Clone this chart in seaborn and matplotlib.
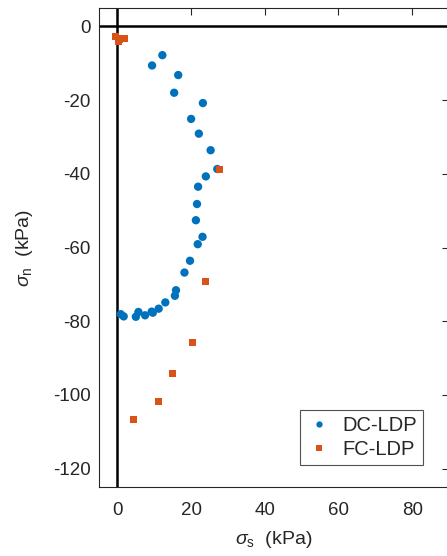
import matplotlib
matplotlib.use("Agg")
import matplotlib.pyplot as plt
import numpy as np
import pandas as pd
import seaborn as sns

# DC-LDP points (sigma_s, sigma_n) in kPa
dc_s = [12.2, 9.4, 16.5, 15.4, 23.2, 20.0, 22.1, 25.3, 27.1, 24.0, 21.9, 21.6, 21.3,
        23.1, 21.8, 19.7, 18.2, 15.9, 15.6, 13.0, 11.2, 9.6, 9.3, 7.5, 5.7, 5.0, 0.9, 1.7]
dc_n = [-7.8, -10.6, -13.2, -18.0, -20.8, -25.1, -29.1, -33.6, -38.7, -40.7, -43.5, -48.2, -52.6,
        -57.1, -59.1, -63.6, -66.8, -71.6, -73.1, -74.9, -76.6, -77.7, -77.4, -78.4, -77.5, -78.8, -78.1, -78.7]

# FC-LDP points
fc_s = [-0.5, 0.2, 1.0, 2.0, 0.5, 27.7, 23.9, 20.5, 15.0, 11.2, 4.4]
fc_n = [-2.8, -4.0, -3.2, -3.3, -3.6, -38.8, -69.3, -85.9, -94.3, -101.7, -106.6]

series = ["DC-LDP", "FC-LDP"]
colors = ["#0072BD", "#D95319"]

df = pd.DataFrame({
    "s": dc_s + fc_s,
    "n": dc_n + fc_n,
    "kind": [series[0]] * len(dc_s) + [series[1]] * len(fc_s),
})

sns.set_style("white")
plt.rcParams["font.family"] = ["Liberation Sans", "DejaVu Sans"]
plt.rcParams["mathtext.fontset"] = "custom"
plt.rcParams["mathtext.rm"] = "Liberation Sans"
plt.rcParams["mathtext.it"] = "Liberation Sans:italic"
plt.rcParams["axes.unicode_minus"] = False

fig = plt.figure(figsize=(4.47, 5.56), dpi=100)
ax = fig.add_axes([99 / 447, 69 / 556, 350 / 447, 479 / 556])

ax.axhline(0, color="black", lw=1.8, zorder=1)
ax.axvline(0, color="black", lw=1.8, zorder=1)

sns.scatterplot(data=df, x="s", y="n", hue="kind", style="kind", size="kind",
                markers={"DC-LDP": "o", "FC-LDP": "s"},
                sizes={"DC-LDP": 36, "FC-LDP": 25},
                palette=dict(zip(series, colors)),
                linewidth=0, ax=ax, zorder=3)

ax.set_xlim(-5, 90)
ax.set_ylim(-125, 5)
ax.set_xticks([0, 20, 40, 60, 80])
ax.set_yticks([0, -20, -40, -60, -80, -100, -120])
ax.tick_params(direction="in", length=5, width=0.8, colors="#262626",
               labelsize=13.5, top=True, right=True)
ax.tick_params(axis="x", pad=11)
ax.tick_params(axis="y", pad=6)
for sp in ax.spines.values():
    sp.set_color("#262626")
    sp.set_linewidth(0.8)

ax.set_xlabel(r"$\sigma_{\mathrm{s}}\ $ (kPa)", fontsize=14, color="#262626", labelpad=7)
ax.set_ylabel(r"$\sigma_{\mathrm{n}}\ $ (kPa)", fontsize=14, color="#262626", labelpad=13)

leg = ax.legend(loc="lower right", bbox_to_anchor=(0.926, 0.045), borderaxespad=0,
                fontsize=14.5, frameon=True, fancybox=False, edgecolor="#262626",
                handletextpad=0.5, borderpad=0.3, labelspacing=0.25,
                handlelength=1.3, markerscale=0.75)
leg.get_frame().set_linewidth(0.8)

fig.savefig("out.png", dpi=100)
